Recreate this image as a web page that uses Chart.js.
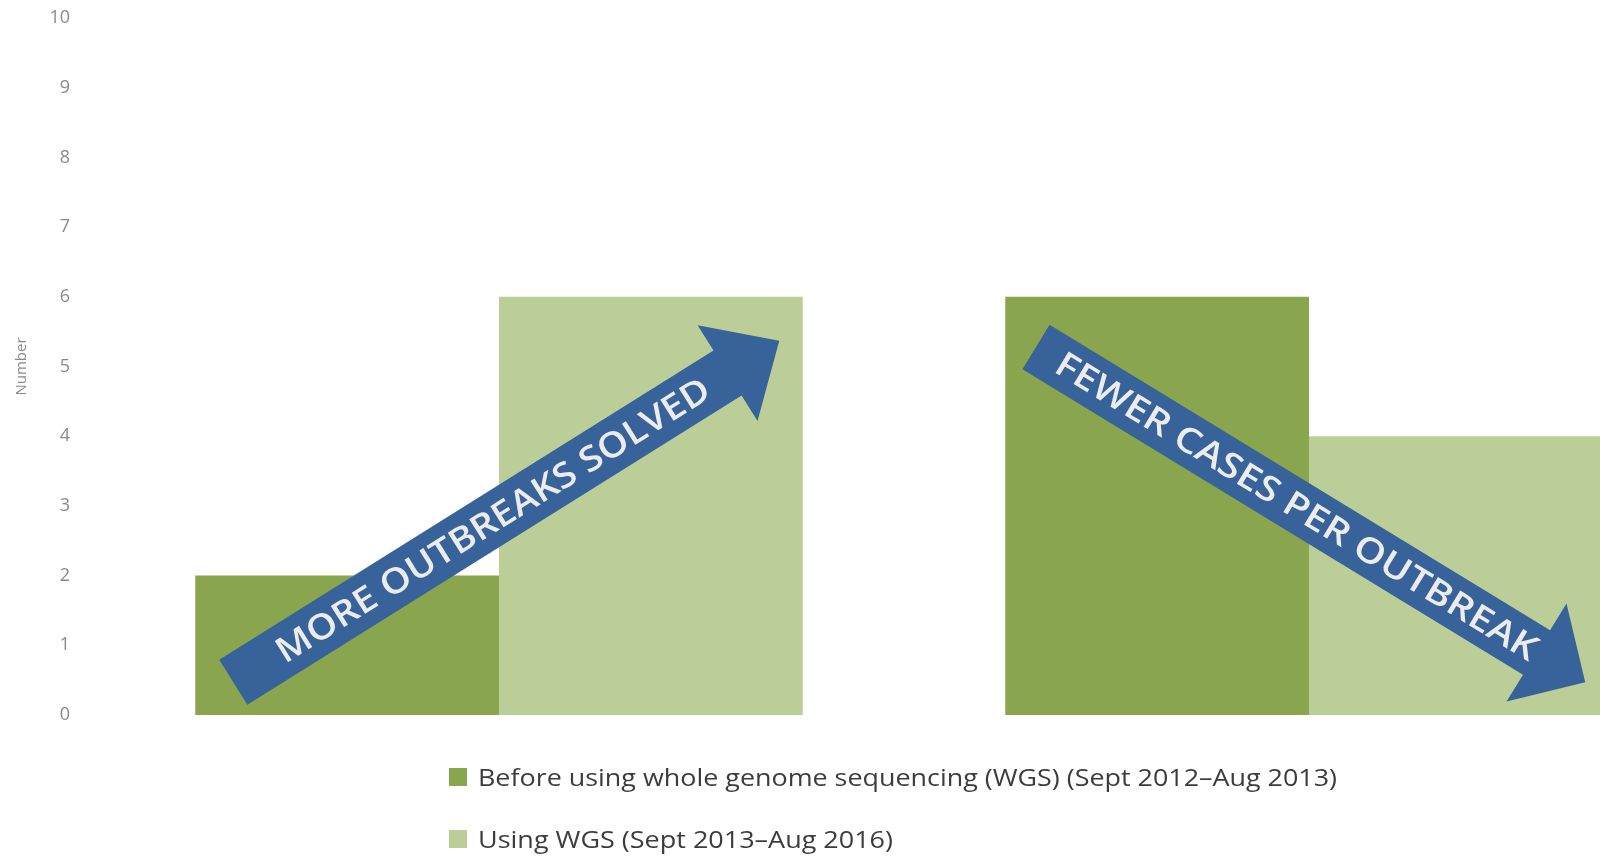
<!DOCTYPE html>
<html>
<head>
<meta charset="utf-8">
<script src="https://cdn.jsdelivr.net/npm/chart.js@4"></script>
<style>
  html, body { margin: 0; padding: 0; background: #fff; }
  body { width: 1600px; height: 856px; overflow: hidden; position: relative; font-family: "Open Sans", sans-serif; }
  #wrap { position: absolute; left: 0; top: 0; width: 1720px; height: 856px; }
  #legend { position: absolute; left: 449px; top: 0; }
  .item { position: absolute; left: 0; white-space: nowrap; display: flex; align-items: center; }
  .box { width: 18px; height: 18px; margin-right: 11px; flex: none; }
  .txt { font-size: 23px; color: #3c3c3c; transform-origin: left center; display: inline-block; }
</style>
</head>
<body>
<div id="wrap"><canvas id="chart" width="1720" height="856"></canvas></div>
<div id="legend"></div>
<script>
// Categories and series values
const categories = ["Outbreaks solved", "Cases per outbreak"];
const beforeWGS = [2, 6];
const usingWGS = [6, 4];
const seriesLabels = [
  "Before using whole genome sequencing (WGS) (Sept 2012\u2013Aug 2013)",
  "Using WGS (Sept 2013\u2013Aug 2016)"
];
const yTicks = [0, 1, 2, 3, 4, 5, 6, 7, 8, 9, 10];
const arrowLabels = ["MORE OUTBREAKS SOLVED", "FEWER CASES PER OUTBREAK"];

const darkGreen = "#89a54e";
const lightGreen = "#bbce98";
const arrowBlue = "#37629a";

// Arrow geometry in axis units (x = category index, y = value); sizes in px
const arrowSpecs = [
  { from: [-0.328, 0.47], to: [0.346, 5.37], shaft: 53, headW: 113, headL: 61, textLen: 505 },
  { from: [0.663, 5.28], to: [1.341, 0.47], shaft: 52, headW: 115, headL: 57, textLen: 558 }
];

// Draws the two annotation arrows over the bars
const arrowPlugin = {
  id: "arrows",
  afterDatasetsDraw(chart) {
    const { ctx, scales: { x, y } } = chart;
    arrowSpecs.forEach((a, i) => {
      const tx = x.getPixelForValue(a.from[0]), ty = y.getPixelForValue(a.from[1]);
      const px = x.getPixelForValue(a.to[0]), py = y.getPixelForValue(a.to[1]);
      const len = Math.hypot(px - tx, py - ty);
      const ang = Math.atan2(py - ty, px - tx);
      ctx.save();
      ctx.translate(tx, ty);
      ctx.rotate(ang);
      const s = a.shaft / 2, h = a.headW / 2, b = len - a.headL;
      ctx.beginPath();
      ctx.moveTo(0, -s);
      ctx.lineTo(b, -s);
      ctx.lineTo(b, -h);
      ctx.lineTo(len, 0);
      ctx.lineTo(b, h);
      ctx.lineTo(b, s);
      ctx.lineTo(0, s);
      ctx.closePath();
      ctx.fillStyle = arrowBlue;
      ctx.fill();

      // label along the shaft
      ctx.font = "600 35px 'Open Sans'";
      const w = ctx.measureText(arrowLabels[i]).width;
      ctx.translate(len * 0.475, 2);
      ctx.scale(a.textLen / w, 1);
      ctx.fillStyle = "#ececec";
      ctx.textAlign = "center";
      ctx.textBaseline = "middle";
      ctx.fillText(arrowLabels[i], 0, 0);
      ctx.restore();
    });
  }
};

const chart = new Chart(document.getElementById("chart"), {
  type: "bar",
  data: {
    labels: categories,
    datasets: [
      { label: seriesLabels[0], data: beforeWGS, backgroundColor: darkGreen },
      { label: seriesLabels[1], data: usingWGS, backgroundColor: lightGreen }
    ]
  },
  options: {
    responsive: false,
    animation: false,
    layout: { padding: { top: 18, bottom: 141, right: 6, left: 0 } },
    datasets: { bar: { categoryPercentage: 0.75, barPercentage: 1.0 } },
    scales: {
      x: { display: false, offset: true },
      y: {
        min: 0,
        max: 10,
        afterFit(scale) { scale.width = 94; },
        afterBuildTicks(scale) { scale.ticks = yTicks.map(v => ({ value: v })); },
        // invisible tick marks keep the labels clear of the bars
        grid: { display: false, drawTicks: true, tickLength: 24 },
        border: { display: false },
        ticks: { padding: 0, color: "#8a8a8a", font: { family: "'Open Sans'", size: 18 } },
        title: {
          display: true,
          text: "Number",
          color: "#8a8a8a",
          padding: { top: 13, bottom: 0 },
          font: { family: "'Open Sans'", size: 15 }
        }
      }
    },
    plugins: {
      legend: { display: false },
      tooltip: { enabled: false }
    }
  },
  plugins: [arrowPlugin]
});

// Legend: one series per row, left aligned
const legend = document.getElementById("legend");
const rowCenters = [777, 839];
const rowWidths = [859, 415];
chart.data.datasets.forEach((ds, i) => {
  const item = document.createElement("div");
  item.className = "item";
  item.style.top = (rowCenters[i] - 16) + "px";
  item.style.height = "32px";
  const box = document.createElement("span");
  box.className = "box";
  box.style.background = ds.backgroundColor;
  const txt = document.createElement("span");
  txt.className = "txt";
  txt.textContent = ds.label;
  item.appendChild(box);
  item.appendChild(txt);
  legend.appendChild(item);
  txt.style.transform = "scaleX(" + (rowWidths[i] / txt.getBoundingClientRect().width) + ")";
});
</script>
</body>
</html>
